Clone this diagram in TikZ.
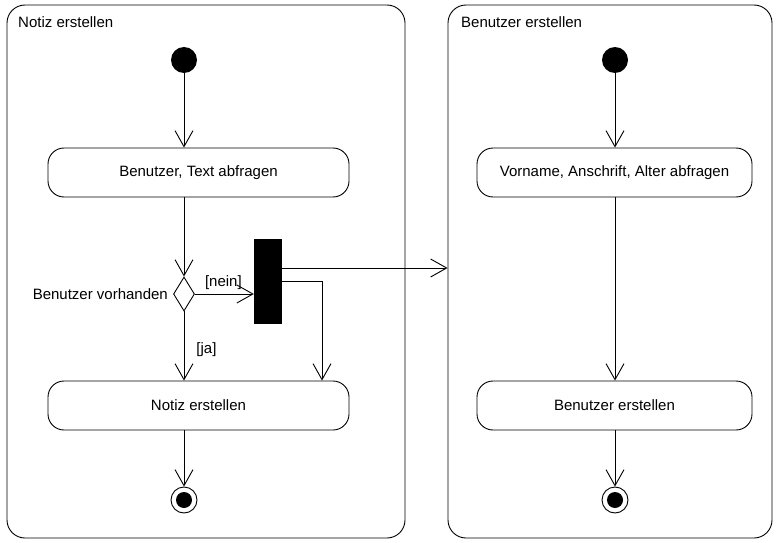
\documentclass[tikz,border=0pt]{standalone}
\usepackage{fontspec}
\setmainfont{Liberation Sans}
\usetikzlibrary{shapes.geometric, arrows.meta, positioning, calc}

\begin{document}
\begin{tikzpicture}[x=1pt, y=-1pt,
  lane/.style={rectangle, draw=black, line width=0.9pt, rounded corners=18pt,
    minimum width=398pt, minimum height=533pt},
  lanetitle/.style={anchor=north west, font=\fontsize{15}{17}\selectfont, inner sep=0pt},
  action/.style={rectangle, draw=black, line width=0.9pt, rounded corners=16pt,
    minimum width=301pt, minimum height=49pt, text centered, font=\fontsize{15}{17}\selectfont},
  start/.style={circle, fill=black, minimum size=26pt, inner sep=0pt},
  stop/.style={circle, draw=black, line width=0.9pt, fill=white, minimum size=26pt, inner sep=0pt,
    path picture={\fill[black] (path picture bounding box.center) circle (8pt);}},
  decision/.style={diamond, draw=black, line width=0.9pt, minimum width=21pt, minimum height=34pt,
    inner sep=0pt},
  forkbar/.style={rectangle, fill=black, minimum width=28pt, minimum height=85pt, inner sep=0pt},
  guard/.style={font=\fontsize{15}{17}\selectfont, inner sep=1pt},
  arrow/.style={-{Straight Barb[length=16pt, width=18pt, line width=0.9pt]}, line width=0.9pt}
]
\useasboundingbox (0,0) rectangle (777,543);

% Partitionen
\node (laneL) [lane] at (206,271.5) {};
\node (laneR) [lane, minimum width=324pt] at (610,271.5) {};
\node (titleL) [lanetitle] at (18,16) {Notiz erstellen};
\node (titleR) [lanetitle] at (461,16) {Benutzer erstellen};

% Notiz erstellen
\node (startL) [start] at (184,60) {};
\node (getUser) [action] at (198.5,172.5) {Benutzer, Text abfragen};
\node (exists) [decision] at (184,294) {};
\node (existsLbl) [guard, left=4pt of exists] {Benutzer vorhanden};
\node (fork) [forkbar] at (268,281) {};
\node (makeNote) [action] at (198.5,405.5) {Notiz erstellen};
\node (stopL) [stop] at (184,500) {};

% Benutzer erstellen
\node (startR) [start] at (615,60) {};
\node (getData) [action, minimum width=275pt] at (614.5,172.5) {Vorname, Anschrift, Alter abfragen};
\node (makeUser) [action, minimum width=275pt] at (614.5,405.5) {Benutzer erstellen};
\node (stopR) [stop] at (615,500) {};

% Hilfspunkte
\coordinate (forkOut) at ([yshift=13pt]fork.east);
\coordinate (forkDown) at (322,281);

% Pfeile
\draw [arrow] (startL) -- (startL |- getUser.north);
\draw [arrow] (startL |- getUser.south) -- (exists.north);
\draw [arrow] (exists.east) -- node[guard, above=3pt, xshift=-1pt] {[nein]} (exists.east -| fork.west);
\draw [arrow] (exists.south) -- node[guard, right, xshift=11pt, yshift=-4pt] {[ja]} (exists |- makeNote.north);
\draw [arrow] (forkOut) -- (forkOut -| laneR.west);
\draw [arrow] (fork.east) -- (forkDown) -- (forkDown |- makeNote.north);
\draw [arrow] (stopL |- makeNote.south) -- (stopL);

\draw [arrow] (startR) -- (startR |- getData.north);
\draw [arrow] (startR |- getData.south) -- (startR |- makeUser.north);
\draw [arrow] (startR |- makeUser.south) -- (stopR);

\end{tikzpicture}
\end{document}
